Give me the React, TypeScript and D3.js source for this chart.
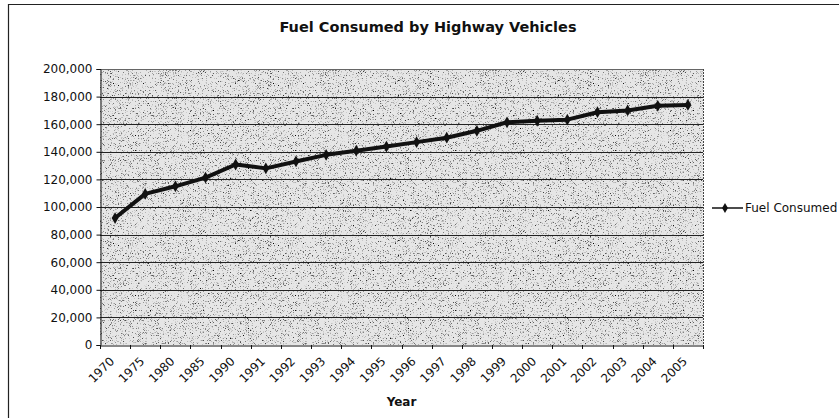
import React, { useEffect, useRef } from 'react';
import * as d3 from 'd3';

// Datos
const years = ['1970', '1975', '1980', '1985', '1990', '1991', '1992', '1993', '1994', '1995',
  '1996', '1997', '1998', '1999', '2000', '2001', '2002', '2003', '2004', '2005'];
const fuelConsumed = [92000, 109500, 115000, 121300, 130800, 128000, 133000, 137800, 140800, 143800,
  147000, 150200, 155200, 161400, 162500, 163300, 168700, 170000, 173300, 174000];
const yTicks = [0, 20000, 40000, 60000, 80000, 100000, 120000, 140000, 160000, 180000, 200000];

const W = 839;
const H = 418;
const FONT = 'Verdana, "DejaVu Sans", sans-serif';

function App() {
  const ref = useRef<SVGSVGElement>(null);

  useEffect(() => {
    const svg = d3.select(ref.current);
    svg.selectAll('*').remove();

    const left = 100, right = 703, top = 69, bottom = 345;

    const x = d3.scaleBand().domain(years).range([left, right]);
    const y = d3.scaleLinear().domain([0, 200000]).range([bottom, top]);

    const defs = svg.append('defs');
    const f = defs.append('filter').attr('id', 'grain')
      .attr('x', 0).attr('y', 0).attr('width', 1).attr('height', 1);
    f.append('feTurbulence').attr('type', 'fractalNoise').attr('baseFrequency', 1.6)
      .attr('numOctaves', 1).attr('seed', 7);
    f.append('feColorMatrix').attr('type', 'matrix')
      .attr('values', '0 0 0 0 0  0 0 0 0 0  0 0 0 0 0  4 0 0 0 -2.3');

    // borde exterior
    svg.append('rect').attr('x', 0).attr('y', 0).attr('width', W).attr('height', H).attr('fill', 'white');
    svg.append('line').attr('x1', 8).attr('x2', W).attr('y1', 4.5).attr('y2', 4.5)
      .attr('stroke', '#222').attr('stroke-width', 1.2);
    svg.append('line').attr('x1', 8.5).attr('x2', 8.5).attr('y1', 4).attr('y2', H)
      .attr('stroke', '#222').attr('stroke-width', 1.2);

    // fondo del área de trazado
    svg.append('rect')
      .attr('x', left).attr('y', top).attr('width', right - left).attr('height', bottom - top)
      .attr('fill', '#e6e6e6');
    svg.append('rect')
      .attr('x', left).attr('y', top).attr('width', right - left).attr('height', bottom - top)
      .attr('fill', 'black').attr('filter', 'url(#grain)');

    // líneas horizontales
    svg.append('g')
      .selectAll('line')
      .data(yTicks.filter((t) => t > 0))
      .enter()
      .append('line')
      .attr('x1', left).attr('x2', right)
      .attr('y1', (d) => Math.round(y(d)) + 0.5).attr('y2', (d) => Math.round(y(d)) + 0.5)
      .attr('stroke', (d) => (d === 200000 ? '#666' : '#222'))
      .attr('stroke-width', 1);

    // borde derecho
    svg.append('line')
      .attr('x1', right + 0.5).attr('x2', right + 0.5).attr('y1', top).attr('y2', bottom)
      .attr('stroke', '#444').attr('stroke-dasharray', '2,1');

    // eje Y
    const yAxis = svg.append('g')
      .attr('transform', `translate(${left + 0.5},0)`)
      .call(d3.axisLeft(y).tickValues(yTicks).tickSize(4).tickPadding(4)
        .tickFormat((d) => d3.format(',')(d as number)));
    yAxis.select('.domain').attr('stroke', '#111');
    yAxis.selectAll('.tick line').attr('stroke', '#111');
    yAxis.selectAll('text')
      .attr('font-family', FONT).attr('font-size', 12).attr('fill', '#111');

    // eje X
    const xAxis = svg.append('g')
      .attr('transform', `translate(0,${bottom + 0.5})`)
      .call(d3.axisBottom(x).tickSize(0).tickFormat(() => ''));
    xAxis.select('.domain').attr('stroke', '#111');
    svg.append('g')
      .selectAll('line')
      .data(years.concat(['end']))
      .enter()
      .append('line')
      .attr('x1', (d, i) => Math.round(left + i * x.bandwidth()) + 0.5)
      .attr('x2', (d, i) => Math.round(left + i * x.bandwidth()) + 0.5)
      .attr('y1', bottom).attr('y2', bottom + 4)
      .attr('stroke', '#111');

    svg.append('g')
      .selectAll('text')
      .data(years)
      .enter()
      .append('text')
      .attr('transform', (d) => `translate(${x(d)! + x.bandwidth() / 2 - 3},${bottom + 14}) rotate(-45)`)
      .attr('text-anchor', 'end')
      .attr('dy', '0.35em')
      .attr('font-family', FONT).attr('font-size', 12).attr('fill', '#111')
      .text((d) => d);

    // línea de datos
    const line = d3.line<number>()
      .x((d, i) => x(years[i])! + x.bandwidth() / 2)
      .y((d) => y(d));

    svg.append('path')
      .datum(fuelConsumed)
      .attr('d', line)
      .attr('fill', 'none')
      .attr('stroke', '#111')
      .attr('stroke-width', 4)
      .attr('stroke-linejoin', 'round');

    const diamond = d3.symbol().type(d3.symbolDiamond).size(40);
    svg.append('g')
      .selectAll('path')
      .data(fuelConsumed)
      .enter()
      .append('path')
      .attr('d', diamond)
      .attr('transform', (d, i) => `translate(${x(years[i])! + x.bandwidth() / 2},${y(d)})`)
      .attr('fill', '#111');

    // título
    svg.append('text')
      .attr('x', 428).attr('y', 32)
      .attr('text-anchor', 'middle')
      .attr('font-family', FONT).attr('font-size', 14.5).attr('font-weight', 'bold')
      .attr('fill', '#111')
      .text('Fuel Consumed by Highway Vehicles');

    svg.append('text')
      .attr('x', (left + right) / 2).attr('y', 406)
      .attr('text-anchor', 'middle')
      .attr('font-family', FONT).attr('font-size', 12).attr('font-weight', 'bold')
      .attr('fill', '#111')
      .text('Year');

    // leyenda
    const lg = svg.append('g').attr('transform', 'translate(712,208)');
    lg.append('line').attr('x1', 0).attr('x2', 31).attr('y1', 0).attr('y2', 0)
      .attr('stroke', '#111').attr('stroke-width', 1.5);
    lg.append('path').attr('d', d3.symbol().type(d3.symbolDiamond).size(30))
      .attr('transform', 'translate(13,0)').attr('fill', '#111');
    lg.append('text')
      .attr('x', 33).attr('y', 0).attr('dy', '0.35em')
      .attr('font-family', FONT).attr('font-size', 12).attr('fill', '#111')
      .text('Fuel Consumed');
  }, []);

  return <svg ref={ref} width={W} height={H} style={{ display: 'block', position: 'absolute', left: 0, top: 0 }} />;
}

export default App;
